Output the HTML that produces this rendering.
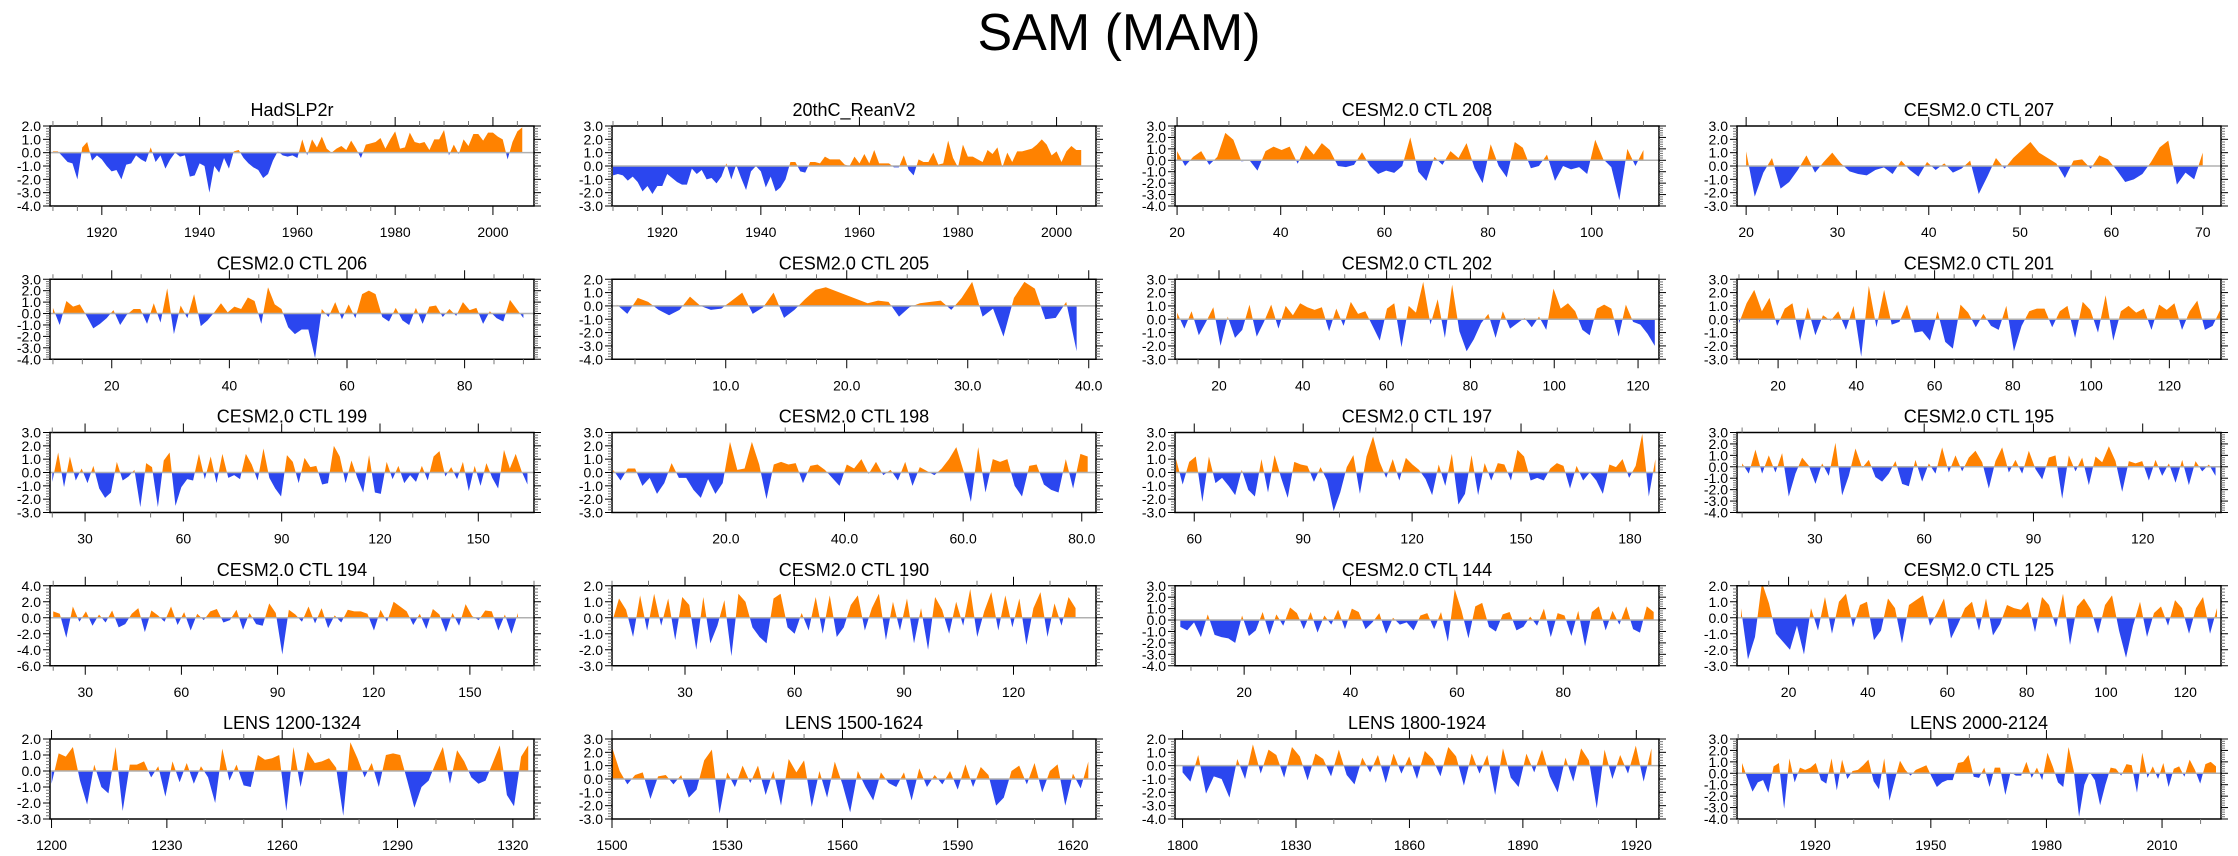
<!DOCTYPE html>
<html><head><meta charset="utf-8"><title>SAM (MAM)</title>
<style>
html,body{margin:0;padding:0;background:#fff;}
svg{display:block;font-family:"Liberation Sans",Arial,sans-serif;}
</style></head>
<body>
<svg id="fig" width="2238" height="856" viewBox="0 0 2238 856" xmlns="http://www.w3.org/2000/svg">
<rect width="2238" height="856" fill="#fff"/>
<text x="1119" y="50" font-size="52" text-anchor="middle" fill="#000">SAM (MAM)</text>
</svg>
<script>
const titles = ["HadSLP2r","20thC_ReanV2","CESM2.0 CTL 208","CESM2.0 CTL 207",
"CESM2.0 CTL 206","CESM2.0 CTL 205","CESM2.0 CTL 202","CESM2.0 CTL 201",
"CESM2.0 CTL 199","CESM2.0 CTL 198","CESM2.0 CTL 197","CESM2.0 CTL 195",
"CESM2.0 CTL 194","CESM2.0 CTL 190","CESM2.0 CTL 144","CESM2.0 CTL 125",
"LENS 1200-1324","LENS 1500-1624","LENS 1800-1924","LENS 2000-2124"];
const dataStart = [1910,1910,20,20,10,1,10,10,20,1,55,10,20,10,8,8,1200,1500,1800,1901];
const dataEnd   = [2006,2005,110,70,90,39,124,133,165,81,187,140,165,137,97,128,1324,1624,1924,2024];
const xMins = [1909.4,1909.8,19.6,19,9.5,0.6,9.5,9.5,19.3,0.8,54.7,8.6,19,10,7,7,1199.6,1500,1798,1899.7];
const xMaxs = [2008.4,2008,113,72,91.8,40.6,125,133.2,167,82.4,188,141.5,170,142.6,98,129,1325.5,1626,1926,2025.3];
const yMins = [-4,-3,-4,-3,-4,-4,-3,-3,-3,-3,-3,-4,-6,-3,-4,-3,-3,-3,-4,-4];
const yMaxs = [2,3,3,3,3,2,3,3,3,3,3,3,4,2,3,2,2,3,2,3];
const yStep = [1,1,1,1,1,1,1,1,1,1,1,1,2,1,1,1,1,1,1,1];
const xTicks = [[1920,1940,1960,1980,2000],[1920,1940,1960,1980,2000],[20,40,60,80,100],[20,30,40,50,60,70],
[20,40,60,80],[10,20,30,40],[20,40,60,80,100,120],[20,40,60,80,100,120],
[30,60,90,120,150],[20,40,60,80],[60,90,120,150,180],[30,60,90,120],
[30,60,90,120,150],[30,60,90,120],[20,40,60,80],[20,40,60,80,100,120],
[1200,1230,1260,1290,1320],[1500,1530,1560,1590,1620],[1800,1830,1860,1890,1920],[1920,1950,1980,2010]];
const xMinor = [5,5,5,2.5,5,2.5,5,5,10,5,10,10,10,10,5,5,10,10,10,10];
const xDec = [0,0,0,0,0,1,0,0,0,1,0,0,0,0,0,0,0,0,0,0];

const vals01=[0.1,0.1,-0.3,-0.7,-0.8,-2.0,0.4,0.8,-0.6,-0.2,-0.5,-1.0,-1.4,-1.3,-2.0,-0.9,-0.8,-0.2,-0.5,-0.7,0.4,-0.7,-0.2,-1.2,-0.5,0.0,-0.3,-0.2,-1.8,-1.7,-0.8,-1.0,-3.0,-1.0,-1.5,-0.4,-1.2,0.1,0.2,-0.4,-0.8,-1.1,-1.3,-1.9,-1.6,-0.6,0.1,-0.2,-0.3,-0.2,-0.4,1.0,-0.2,1.0,0.4,1.2,0.3,0.0,0.3,0.5,0.2,0.9,0.3,-0.4,0.6,0.7,0.8,1.1,0.3,1.0,1.6,0.3,0.4,1.5,0.8,0.7,0.8,0.2,1.0,1.0,1.7,-0.2,0.6,-0.1,1.0,0.5,1.4,1.4,0.9,1.5,1.5,1.2,1.0,-0.5,0.8,1.6,1.9];
const vals02=[-0.7,-0.6,-0.7,-1.1,-0.8,-1.2,-1.9,-1.5,-2.1,-1.5,-1.5,-0.6,-0.9,-1.2,-1.4,-1.4,-0.2,-0.6,-0.3,-1.0,-0.9,-1.3,-0.8,0.2,-1.0,0.1,-0.9,-1.8,-0.4,0.0,-0.4,-1.6,-0.8,-1.9,-1.6,-1.0,0.3,0.3,-0.4,-0.5,0.3,0.3,0.2,0.7,0.5,0.5,0.5,0.1,0.0,0.7,0.2,0.9,0.2,1.2,0.2,0.2,0.2,-0.1,-0.1,0.8,-0.3,-0.7,0.5,0.3,0.3,1.0,0.1,0.2,1.9,0.6,-0.1,1.6,0.7,0.7,0.5,0.3,1.2,0.9,1.4,-0.1,1.0,0.3,1.1,1.1,1.2,1.3,1.6,2.0,1.6,0.8,1.1,0.3,1.1,1.5,1.2,1.2];
const vals03=[0.8,-0.5,0.3,0.8,-0.4,0.3,2.4,1.8,-0.1,0.0,-0.9,0.8,1.2,0.9,1.2,-0.3,1.3,0.5,1.5,0.9,-0.5,-0.6,-0.4,0.7,-0.5,-1.2,-0.9,-1.1,-0.5,2.0,-1.0,-1.8,0.3,-0.4,0.8,0.2,1.5,-0.7,-2.0,1.4,-0.5,-1.5,1.6,1.1,-0.7,-0.5,0.5,-1.8,-0.5,-0.8,-0.6,-1.2,1.8,0.1,-0.6,-3.5,1.0,-0.5,0.9];
const vals04=[1.1,-2.3,-0.5,0.6,-1.7,-1.2,-0.3,0.8,-0.5,0.3,1.0,0.2,-0.4,-0.6,-0.7,-0.3,-0.1,-0.6,0.4,-0.3,-0.8,0.3,-0.3,0.2,-0.5,-0.2,0.4,-2.1,-0.8,0.6,-0.2,0.6,1.2,1.8,1.0,0.6,0.2,-0.9,0.4,0.5,-0.2,0.8,0.5,-0.3,-1.2,-1.0,-0.6,0.3,1.4,1.9,-1.4,-0.5,-1.0,1.0];
const vals05=[0.5,-1.0,1.1,0.6,0.8,-0.2,-1.3,-0.9,-0.4,0.3,-1.0,-0.1,0.4,0.4,-0.9,0.9,-0.8,2.2,-1.8,0.7,-0.4,1.7,-1.1,-0.6,0.1,0.9,0.1,0.6,0.4,1.4,1.1,-0.9,2.3,0.8,0.4,-1.2,-1.8,-1.4,-1.4,-3.9,0.4,-0.3,1.0,-0.5,0.8,-0.4,1.7,2.0,1.7,-0.3,-0.7,0.5,-0.6,-1.0,0.5,-0.9,0.6,0.7,-0.3,0.4,-0.2,1.0,0.3,0.5,-0.9,0.2,-0.4,-0.7,1.2,0.4,-0.4];
const vals06=[0.1,-0.6,0.6,0.3,-0.3,-0.7,-0.3,0.7,0.0,-0.3,-0.2,0.4,1.0,-0.6,-0.1,1.0,-0.9,-0.3,0.5,1.2,1.4,1.1,0.8,0.5,0.2,0.4,0.3,-0.8,-0.1,0.2,0.3,0.4,-0.3,0.6,1.8,-0.8,-0.2,-2.3,0.6,1.8,1.3,-1.0,-0.9,0.3,-3.4];
const vals07=[0.5,-0.7,0.6,-1.2,-0.2,0.9,-2.0,0.2,-1.4,-0.8,1.1,-1.3,-0.2,1.1,-0.7,1.0,0.3,1.2,0.9,0.7,0.9,-0.9,0.8,-0.5,1.3,0.4,0.6,-0.5,-1.6,0.8,1.2,-2.1,1.0,0.5,2.8,-0.4,1.5,-1.4,2.6,-0.9,-2.4,-1.5,-0.3,0.4,-1.4,0.6,-0.7,-0.3,0.1,-0.6,0.2,-0.8,2.3,0.8,1.2,0.6,-0.8,-1.2,0.8,1.1,0.8,-1.3,1.1,-0.2,-0.4,-1.1,-2.0];
const vals08=[-0.3,1.2,2.2,0.6,1.6,-0.5,0.8,1.2,-1.6,0.9,-1.2,0.3,-0.1,0.6,-0.8,1.0,-2.8,2.5,-0.6,2.2,-0.4,-0.2,1.1,-1.0,-0.9,-1.6,0.6,-1.7,-2.2,1.1,0.5,-0.6,0.4,-0.5,-0.8,1.0,-2.4,-0.5,0.6,0.8,0.8,-0.6,0.6,1.0,-1.4,1.3,0.7,-1.0,1.8,-1.6,0.6,1.0,0.5,0.8,-0.8,1.1,0.7,1.2,-0.8,0.6,1.4,-0.8,-0.5,0.7];
const vals09=[-0.7,1.5,-1.1,1.2,-0.6,0.3,-0.8,0.5,-1.2,-1.9,-1.5,0.8,-0.6,-0.3,0.2,-2.6,0.7,0.4,-2.6,0.9,1.5,-2.5,-1.1,-0.5,-0.6,1.4,-0.5,1.2,-0.8,1.4,-0.4,-0.2,-0.5,1.4,0.6,-0.6,1.8,-0.4,-1.2,-1.8,1.3,0.8,-0.8,1.1,0.4,0.5,-0.9,-0.8,2.0,1.2,-0.8,0.9,-0.4,-1.5,1.3,-1.5,-1.6,0.8,-0.5,0.5,-0.8,-0.2,-0.7,0.5,-0.6,1.2,1.6,-0.3,0.4,-0.5,0.8,-1.4,0.5,-1.0,0.7,-0.4,-1.2,1.7,0.3,1.4,0.1,-0.9];
const vals10=[0.2,-0.6,0.3,0.3,-1.0,-0.4,-1.6,-0.8,0.7,-0.4,-0.4,-1.3,-1.9,-0.5,-1.6,-0.8,2.3,0.2,0.3,2.3,0.6,-2.0,0.6,0.8,0.6,0.7,-0.8,0.5,0.6,0.2,-0.4,-1.0,0.6,0.3,1.0,-0.1,0.8,-0.2,0.2,-0.6,0.8,-1.0,0.4,0.1,-0.2,0.3,1.0,1.9,0.1,-2.2,1.9,-1.5,1.0,0.8,1.0,-1.0,-1.8,0.5,0.6,-0.9,-1.3,-1.5,1.0,-1.2,1.4,1.2];
const vals11=[1.0,-0.9,0.8,1.2,-2.2,1.2,-0.8,-0.4,-1.0,-1.7,0.2,-1.3,-1.8,1.0,-1.5,1.3,-0.4,-1.9,0.8,0.6,0.5,-0.7,0.4,-0.6,-2.9,-1.5,0.4,1.3,-1.6,1.2,2.7,0.8,-0.4,1.0,-0.6,1.1,0.6,0.2,-0.5,-1.7,0.6,-1.0,1.4,-2.4,-1.6,1.3,-1.7,0.7,-0.6,0.7,0.6,-0.6,1.7,1.2,-0.6,-0.4,-0.6,0.3,0.7,0.5,-1.2,0.5,-0.6,0.0,-0.6,-1.6,0.6,0.4,1.0,-0.4,0.5,2.9,-1.8,1.0];
const vals12=[0.3,-0.6,1.5,-0.6,1.0,-0.5,1.2,-2.6,-0.6,0.8,0.1,-1.5,0.3,-0.8,2.1,-2.5,-0.8,1.6,-0.1,0.6,-0.9,-1.3,-0.6,0.5,-1.5,-1.7,0.6,-1.3,0.3,-0.6,1.7,-0.5,1.0,-0.4,0.8,1.4,0.4,-1.9,0.5,1.7,-0.5,0.6,-0.6,1.4,-0.2,-1.1,0.8,1.0,-2.8,1.0,-0.4,0.8,-1.6,0.9,0.4,1.8,0.5,-2.2,0.5,0.3,0.5,-1.2,0.6,-0.8,0.3,-1.4,0.6,-1.6,0.5,-0.4,0.2,-0.8];
const vals13=[0.8,0.5,-2.5,1.4,-0.5,0.8,-1.0,0.4,-0.6,0.9,-1.2,-0.8,0.5,1.2,-1.8,0.9,0.3,-0.5,1.4,-0.9,0.7,-1.6,0.5,-0.3,0.8,1.1,-0.6,-0.3,1.0,-1.5,0.6,-0.8,-1.0,1.8,0.6,-4.6,1.0,0.4,-0.5,1.4,-0.7,1.2,-1.3,0.3,-0.6,1.0,0.8,0.8,0.5,-1.6,1.0,-0.5,2.0,1.4,0.8,-0.9,0.5,-1.4,1.1,0.4,-1.8,0.6,-1.0,1.7,0.2,-0.3,0.9,0.8,-1.6,0.4,-2.0,0.6];
const vals14=[-0.3,1.2,0.5,-1.2,1.4,-0.8,1.5,-0.5,1.2,-1.4,1.3,0.8,-2.0,1.3,-1.6,-0.5,1.1,-2.4,1.5,1.0,-0.6,-1.2,-1.6,1.2,1.5,-0.6,-1.0,0.3,-0.8,1.3,-1.0,1.4,-1.2,-0.6,0.8,1.4,-0.8,0.6,1.5,-1.4,1.0,-0.8,1.2,-1.6,0.6,-2.0,1.3,0.5,-1.0,1.0,-0.5,1.8,-1.2,0.4,1.6,-0.8,1.4,-0.6,1.2,-1.7,0.6,1.6,-1.2,0.9,-0.5,1.3,0.6];
const vals15=[-0.6,-0.9,-0.2,-1.5,0.5,-1.3,-1.5,-1.6,-2.0,0.4,-1.4,-0.9,0.7,-1.3,0.5,-0.5,1.1,0.6,-0.8,0.7,-1.1,0.4,-0.4,0.9,-0.8,1.0,0.7,-0.8,-0.2,0.6,-1.2,0.2,-0.4,-0.2,-0.9,0.4,0.6,-0.8,0.7,-1.9,2.7,0.8,-1.6,1.2,1.5,-0.6,-1.0,0.5,0.7,-0.9,-0.6,0.3,-0.5,1.0,-1.5,0.6,0.4,-1.4,0.8,-2.3,0.7,1.2,-0.9,0.8,-0.4,1.2,-0.8,-1.1,1.2,0.7];
const vals16=[0.6,-2.6,-1.2,2.2,0.9,-1.0,-1.5,-2.0,-0.5,-2.3,0.6,-0.8,1.3,-1.0,1.0,1.5,-0.6,0.8,1.0,-1.4,-0.8,1.2,0.6,-1.6,0.8,1.1,1.4,-0.5,0.3,1.2,-1.3,-0.4,0.6,1.0,-0.8,1.2,-1.1,-0.4,0.8,0.6,0.5,1.0,-0.9,1.3,0.8,-0.6,1.5,-1.7,0.7,1.2,0.5,-1.0,0.8,1.4,-0.8,-2.5,-0.5,1.0,-1.2,0.3,0.7,-0.5,1.1,0.6,-1.0,0.6,1.3,-1.0,0.6];
const vals17=[-0.8,1.1,0.9,1.5,-0.6,-2.1,0.4,-1.0,-1.4,1.5,-2.5,0.4,0.4,0.6,-0.4,0.3,-1.6,0.6,-0.7,0.5,-0.8,0.3,-0.4,-2.0,1.4,-0.6,0.4,-0.9,-1.0,1.0,0.7,0.8,1.0,-2.5,1.5,-1.0,1.2,0.5,0.6,0.8,0.2,-2.8,1.8,0.8,-0.4,0.5,-1.0,1.0,1.1,1.0,-0.6,-2.3,-1.0,-0.6,0.5,1.5,-0.8,1.3,0.6,-0.4,-0.8,-0.6,0.5,1.6,-1.5,-2.2,0.9,1.6];
const vals18=[2.4,0.6,-0.4,0.3,0.5,-1.5,0.2,0.3,-0.4,0.3,-1.4,-0.8,1.4,2.2,-2.6,0.5,-0.6,1.0,-0.3,1.0,-1.2,0.6,-2.0,1.5,0.5,1.4,-2.1,0.6,-1.4,1.3,-0.4,-2.5,0.6,-0.6,-1.6,0.5,-0.3,-0.6,0.5,-1.6,0.8,-0.6,0.3,-0.4,0.6,-0.8,1.1,-0.6,0.9,0.3,-2.0,-1.4,0.6,1.0,-0.4,1.2,-1.0,0.6,1.1,-2.0,0.4,-0.7,1.3];
const vals19=[-0.5,-1.2,0.8,-2.1,-0.8,-1.0,-2.4,0.5,-1.0,1.6,-0.6,1.2,0.8,-0.9,1.4,0.7,-1.1,0.9,0.5,-0.8,1.2,-0.7,-1.4,0.6,-0.5,0.8,-1.3,0.9,-0.6,0.7,-1.0,1.1,0.5,-0.8,1.4,0.7,-1.5,0.9,-0.6,0.8,-2.2,1.3,-0.9,-1.6,0.9,-0.5,1.2,-0.8,-2.0,0.6,-1.2,1.3,0.4,-3.2,1.2,-1.0,0.8,-0.6,1.5,-1.2,1.3];
const vals20=[0.9,-0.4,-1.6,-0.8,-0.6,-1.7,0.6,0.9,-3.1,1.3,-0.8,0.5,0.3,0.5,0.9,-0.6,-0.9,1.3,-1.5,1.2,-0.5,0.2,0.3,0.7,1.2,-0.7,-1.4,1.3,-2.4,-0.6,1.1,0.3,-0.2,0.3,0.5,0.7,-0.3,-1.2,-0.8,-0.6,-0.6,0.9,1.0,1.6,-0.3,-0.4,0.5,-1.2,0.5,0.5,-1.9,0.1,-0.2,-0.2,1.0,-0.4,0.5,-0.6,1.8,0.6,-0.8,-1.2,2.3,0.2,-3.8,-1.0,0.1,-0.6,-2.8,-1.0,0.5,0.4,-0.2,0.8,0.7,-1.7,1.8,-0.4,0.6,-0.5,0.9,-1.2,0.4,0.6,-0.3,1.2,0.3,-0.9,0.8,1.0,0.6];
const allVals=[vals01,vals02,vals03,vals04,vals05,vals06,vals07,vals08,vals09,vals10,vals11,vals12,vals13,vals14,vals15,vals16,vals17,vals18,vals19,vals20];

const NS="http://www.w3.org/2000/svg";
const svg=document.getElementById('fig');
function mk(tag,attrs,parent){const e=document.createElementNS(NS,tag);for(const k in attrs)e.setAttribute(k,attrs[k]);(parent||svg).appendChild(e);return e;}
const colLeft=[50,612,1175,1737], boxW=484, boxH=80, rowTop0=126, rowPitch=153.25;
const ORANGE="#ff8200", BLUE="#2b46ef";

for(let p=0;p<20;p++){
  const r=Math.floor(p/4), c=p%4;
  const L=colLeft[c], T=rowTop0+r*rowPitch, R=L+boxW, B=T+boxH;
  const xs=v=>L+(v-xMins[p])/(xMaxs[p]-xMins[p])*boxW;
  const ys=v=>B-(v-yMins[p])/(yMaxs[p]-yMins[p])*boxH;
  const g=mk('g',{});
  
  
  const t=mk('text',{x:(L+R)/2,y:T-10,'font-size':18,'text-anchor':'middle',fill:'#000'},g);
  t.textContent=titles[p];
  
  
  const v=allVals[p], n=v.length, y0=ys(0);
  let d='M'+xs(dataStart[p])+','+y0;
  for(let i=0;i<n;i++){const xv=dataStart[p]+i*(dataEnd[p]-dataStart[p])/(n-1);d+=' L'+xs(xv).toFixed(2)+','+ys(v[i]).toFixed(2);}
  d+=' L'+xs(dataEnd[p])+','+y0+' Z';
  const cpA=mk('clipPath',{id:'ca'+p},g); mk('rect',{x:L,y:T,width:boxW,height:y0-T},cpA);
  const cpB=mk('clipPath',{id:'cb'+p},g); mk('rect',{x:L,y:y0,width:boxW,height:B-y0},cpB);
  const pa=mk('path',{d:d,fill:ORANGE,'clip-path':'url(#ca'+p+')'},g);
  
  
  const pb=mk('path',{d:d,fill:BLUE,'clip-path':'url(#cb'+p+')'},g);
  
  
  const zl=mk('line',{x1:L,x2:R,y1:y0,y2:y0,stroke:'#b0b0b0','stroke-width':1.5},g);
  
  
  const fr=mk('rect',{x:L,y:T,width:boxW,height:boxH,fill:'none',stroke:'#000','stroke-width':1.5},g);
  
  
  const ms=yStep[p], mn=ms/5;
  for(let k=0;k<=Math.round((yMaxs[p]-yMins[p])/mn);k++){
    const yv=yMins[p]+k*mn, yy=ys(yv), major=(k%5===0);
    const len=major?7:4, col=major?'#000':'#777';
    mk('line',{x1:L-len,x2:L,y1:yy,y2:yy,stroke:col,'stroke-width':1},g);
    mk('line',{x1:R,x2:R+len,y1:yy,y2:yy,stroke:col,'stroke-width':1},g);
    if(major){
      const lt=mk('text',{x:L-9,y:yy+5,'font-size':14,'text-anchor':'end',fill:'#000'},g);
      lt.textContent=yv.toFixed(1);
      
      
    }
  }
  const mi=xMinor[p];
  let s=Math.ceil(xMins[p]/mi)*mi;
  for(let xv=s;xv<=xMaxs[p]+1e-6;xv+=mi){
    const isMajor=xTicks[p].some(q=>Math.abs(q-xv)<1e-6);
    const xx=xs(xv), len=isMajor?9:5, col=isMajor?'#000':'#777';
    mk('line',{x1:xx,x2:xx,y1:T-len,y2:T,stroke:col,'stroke-width':1},g);
    mk('line',{x1:xx,x2:xx,y1:B,y2:B+len,stroke:col,'stroke-width':1},g);
  }
  xTicks[p].forEach(q=>{
    const lt=mk('text',{x:xs(q),y:B+31,'font-size':14,'text-anchor':'middle',fill:'#000'},g);
    lt.textContent=q.toFixed(xDec[p]);
    
    
  });
}
</script>
</body></html>
